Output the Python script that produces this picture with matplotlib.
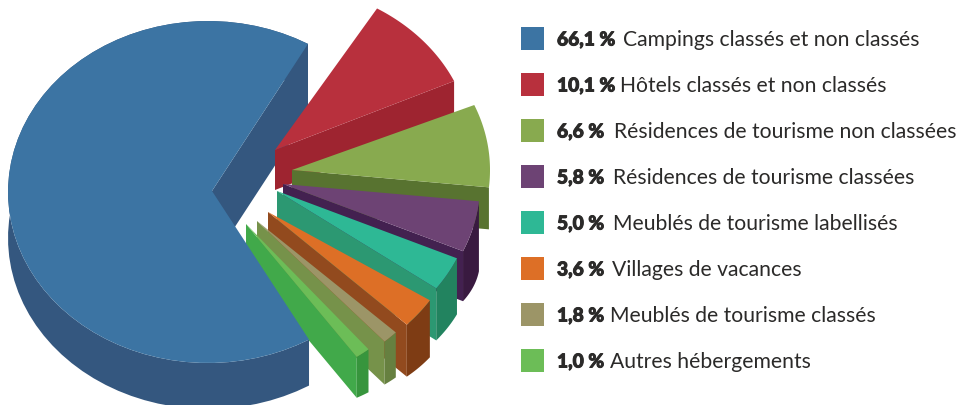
import numpy as np
import matplotlib
matplotlib.use('Agg')
import matplotlib.pyplot as plt
import matplotlib.patheffects as pe

labels = ['Campings classés et non classés', 'Hôtels classés et non classés',
          'Résidences de tourisme non classées', 'Résidences de tourisme classées',
          'Meublés de tourisme labellisés', 'Villages de vacances',
          'Meublés de tourisme classés', 'Autres hébergements']
pct_text = ['66,1 %', '10,1 %', '6,6 %', '5,8 %', '5,0 %', '3,6 %', '1,8 %', '1,0 %']
shares = [66.1, 10.1, 6.6, 5.8, 5.0, 3.6, 1.8, 1.0]

# colours: top, radial wall, outer wall
top_col = ['#3c74a3', '#b8303d', '#88aa4f', '#6d4374', '#2eb895', '#dd6f26', '#9c9567', '#6cbd57']
wall_col = ['#34577f', '#9e2430', '#587330', '#432150', '#2c9872', '#924a1e', '#76924a', '#41a94a']
end_col = ['#34577f', '#9e2430', '#587330', '#391a40', '#22835f', '#7e3c14', '#668040', '#37953d']

# layout of the exploded slices, in pixels of the picture
apex = [(212, 191), (275, 150), (292, 170), (283, 184), (277, 191), (268, 212), (257, 221), (246, 224)]
start = [60, 58.8, 23, -6, -24, -33, -43.7, -50.6]
stretch = [1.01, 0.94, 1.22, 0.86, 0.67, 0.85, 0.72, 1.22]
radius = [197, 197, 198, 197, 197, 193, 192, 193]
depth_a = [46, 40, 42, 70, 56, 57, 45, 43]
depth_b = [46, 40, 42, 50, 52, 52, 43, 41]
text_x = [623, 620, 614, 613, 613, 612, 610, 610]
squash = 0.84


def arc(cx, cy, r, a0, a1, ratio=squash):
    t = np.radians(np.linspace(a0, a1, 60))
    return cx + r * np.cos(t), cy - r * ratio * np.sin(t)


fig = plt.figure(figsize=(9.58, 4.05), dpi=100)
ax = fig.add_axes([0, 0, 1, 1])
ax.set_xlim(0, 958)
ax.set_ylim(405, 0)
ax.axis('off')

# big slice: the ellipse centre is not quite its apex
bx, by = 208, 192
brx, bry = 200, 171
a0 = start[0]
a1 = a0 + shares[0] * 3.6 * stretch[0]
x, y = arc(bx, by, brx, a0, a1, bry / brx)

# cut wall at the back, goes under the exploded slices
ax.fill([apex[0][0], x[0], x[0], apex[0][0]],
        [apex[0][1], y[0], y[0] + 71, apex[0][1] + 71], color=wall_col[0], lw=0, zorder=1)

for i in range(1, 8):
    ox, oy = apex[i]
    a_hi = start[i]
    a_lo = a_hi - shares[i] * 3.6 * stretch[i]
    z = 2 + i
    xs, ys = arc(ox, oy, radius[i], a_hi, a_lo)
    # wall under the lower radial edge
    ax.fill([ox, xs[-1], xs[-1], ox], [oy, ys[-1], ys[-1] + depth_b[i], oy + depth_b[i]],
            color=wall_col[i], lw=0, zorder=z)
    # outer wall, only where it faces the viewer
    if a_hi <= 0:
        d = np.linspace(depth_a[i], depth_b[i], len(xs))
        ax.fill(np.r_[xs, xs[::-1]], np.r_[ys, (ys + d)[::-1]], color=end_col[i], lw=0, zorder=z)
    ax.fill(np.r_[ox, xs], np.r_[oy, ys], color=top_col[i], lw=0, zorder=z)

# big slice front wall and top, over the thin slices
ax.fill(np.r_[x, x[::-1]], np.r_[y, (y + depth_a[0])[::-1]], color=wall_col[0], lw=0, zorder=12)
ax.fill(np.r_[apex[0][0], x], np.r_[apex[0][1], y], color=top_col[0], lw=0, zorder=13)

# legend
for i in range(8):
    row = 38.5 + 46 * i
    ax.add_patch(plt.Rectangle((521, row - 11.5), 23, 23, color=top_col[i], lw=0))
    t = ax.text(557, row + 7, pct_text[i], family='Lato', weight='black', fontsize=13.8,
                color='#2b2a29', va='baseline', ha='left')
    t.set_path_effects([pe.withStroke(linewidth=0.7, foreground='#2b2a29')])
    ax.text(text_x[i], row + 7, labels[i], family='Lato',
            fontsize=15.2, color='#2b2a29', va='baseline', ha='left')

fig.savefig('out.png', dpi=100)
